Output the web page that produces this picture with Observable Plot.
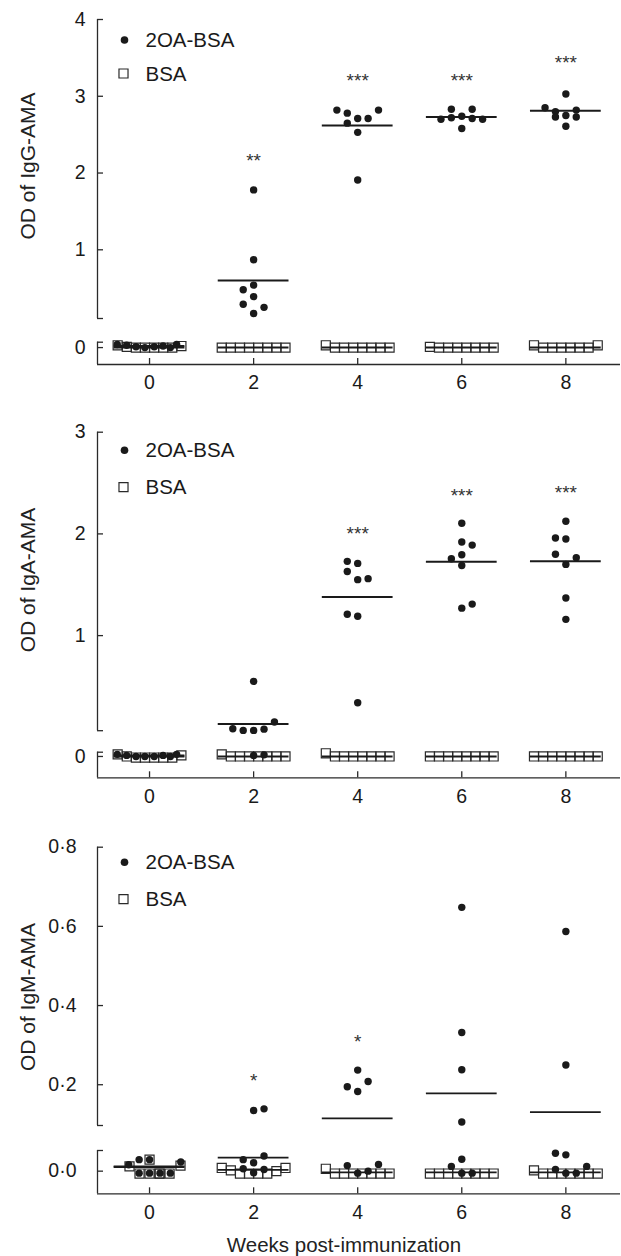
<!DOCTYPE html>
<html>
<head>
<meta charset="utf-8">
<script src="https://cdn.jsdelivr.net/npm/d3@7"></script>
<script src="https://cdn.jsdelivr.net/npm/@observablehq/plot@0.6"></script>
<style>
  body { margin: 0; background: #fff; }
  #wrap { position: relative; width: 621px; height: 1256px; font-family: "Liberation Sans", Arial, sans-serif; color: #222; overflow: hidden; }
  .panel { position: absolute; left: 0; }
  .ylab { position: absolute; font-size: 21px; white-space: nowrap; transform: translate(-50%, -50%) rotate(-90deg); }
  .xlab { position: absolute; font-size: 20.5px; white-space: nowrap; transform: translate(-50%, -50%); }
</style>
</head>
<body>
<div id="wrap"></div>
<script>
// ---------- shared categories ----------
const weeks = [0, 2, 4, 6, 8];
const groupNames = ["2OA-BSA", "BSA"];
const xTitle = "Weeks post-immunization";

// ---------- IgG panel ----------
const iggTitle = "OD of IgG-AMA";
const iggTreated = [
  [0.04, 0.03, 0.01, 0.0, 0.01, 0.02, 0.0, 0.04],
  [1.78, 0.87, 0.54, 0.48, 0.39, 0.29, 0.25, 0.17],
  [2.82, 2.78, 2.65, 2.71, 2.71, 2.82, 2.53, 1.91],
  [2.70, 2.72, 2.74, 2.71, 2.70, 2.83, 2.83, 2.58],
  [3.03, 2.85, 2.80, 2.82, 2.73, 2.75, 2.73, 2.61]
];
const iggTreatedSlot = [
  [-3.1, -2.2, -1.3, -0.45, 0.45, 1.3, 2.0, 2.6],
  [0, 0, 0, -1, 0, -1, 1, 0],
  [-2, -1, -1, 0, 1, 2, 0, 0],
  [-2, -1, 0, 1, 2, -1, 1, 0],
  [0, -2, -1, 1, -1, 0, 1, 0]
];
const iggControl = [
  [0.03, 0.01, 0, 0, 0, 0, 0, 0.02],
  [0, 0, 0, 0, 0, 0, 0, 0],
  [0.03, 0, 0, 0, 0, 0, 0, 0],
  [0.01, 0, 0, 0, 0, 0, 0, 0],
  [0.03, 0, 0, 0, 0, 0, 0, 0.03]
];
const iggControlSlot = [null, null, null, null, null];
const iggTreatedMean = [0.02, 0.60, 2.62, 2.73, 2.81];
const iggControlMean = [0, 0, 0, 0, 0];
const iggStars = ["", "**", "***", "***", "***"];
const iggStarLevel = [null, 2.22, 3.26, 3.26, 3.50];
const iggTicks = [0, 1, 2, 3, 4];
const iggTickLabels = ["0", "1", "2", "3", "4"];
const iggBreaks = [-0.22, 0.07, 0.105, 4];

// ---------- IgA panel ----------
const igaTitle = "OD of IgA-AMA";
const igaTreated = [
  [0.02, 0.01, 0.0, 0.0, 0.0, 0.01, 0.0, 0.02],
  [0.55, 0.15, 0.084, 0.068, 0.068, 0.08, 0.01, 0.015],
  [1.73, 1.71, 1.63, 1.55, 1.56, 1.21, 1.19, 0.34],
  [2.105, 1.92, 1.89, 1.755, 1.795, 1.69, 1.27, 1.31],
  [2.125, 1.96, 1.95, 1.80, 1.765, 1.70, 1.37, 1.16]
];
const igaTreatedSlot = [
  [-3.1, -2.2, -1.3, -0.45, 0.45, 1.3, 2.0, 2.6],
  [0, 2, -2, -1, 0, 1, 0, 1],
  [-1, 0, -1, 0, 1, -1, 0, 0],
  [0, 0, 1, -1, 0, 0, 0, 1],
  [0, -1, 0, -1, 1, 0, 0, 0]
];
const igaControl = [
  [0.02, 0, -0.01, -0.01, -0.01, -0.01, -0.01, 0.01],
  [0.02, 0, 0, 0, 0, 0, 0, 0],
  [0.03, 0, 0, 0, 0, 0, 0, 0],
  [0, 0, 0, 0, 0, 0, 0, 0],
  [0, 0, 0, 0, 0, 0, 0, 0]
];
const igaControlSlot = [null, null, null, null, null];
const igaTreatedMean = [0.01, 0.13, 1.38, 1.725, 1.73];
const igaControlMean = [0, 0, 0, 0, 0];
const igaStars = ["", "", "***", "***", "***"];
const igaStarLevel = [null, null, 2.05, 2.42, 2.45];
const igaTicks = [0, 1, 2, 3];
const igaTickLabels = ["0", "1", "2", "3"];
const igaBreaks = [-0.2, 0.04, 0.065, 3];

// ---------- IgM panel ----------
const igmTitle = "OD of IgM-AMA";
const igmTreated = [
  [0.016, 0.029, 0.029, 0.023, -0.005, -0.005, -0.005, -0.005],
  [0.135, 0.139, 0.029, 0.038, 0.021, 0.006, 0.004, -0.004],
  [0.237, 0.208, 0.195, 0.183, 0.014, 0.017, 0.0, -0.005],
  [0.648, 0.332, 0.238, 0.106, 0.030, 0.012, -0.005, -0.005],
  [0.587, 0.250, 0.045, 0.041, 0.004, 0.012, -0.005, -0.005]
];
const igmTreatedSlot = [
  [-2, -1, 0, 3, -1, 0, 1, 2],
  [0, 1, -1, 1, 0, -1, 1, 0],
  [0, 1, -1, 0, -1, 2, 1, 0],
  [0, 0, 0, 0, 0, -1, 0, 1],
  [0, 0, -1, 0, -1, 2, 0, 1]
];
const igmControl = [
  [0.012, -0.006, 0.029, -0.006, -0.006, -0.006, 0.014, -0.006],
  [0.008, 0.002, -0.006, -0.006, -0.006, -0.006, 0.0, 0.008],
  [0.006, -0.006, -0.006, -0.006, -0.006, -0.006, -0.006, -0.006],
  [-0.006, -0.006, -0.006, -0.006, -0.006, -0.006, -0.006, -0.006],
  [0.002, -0.006, -0.006, -0.006, -0.006, -0.006, -0.006, -0.006]
];
const igmControlSlot = [[-2.2, -1.1, 0, 0, 1.1, 2.2, 3.4, 1.1], null, null, null, null];
const igmTreatedMean = [0.012, 0.034, 0.115, 0.178, 0.131];
const igmControlMean = [0.01, 0.003, -0.003, -0.003, -0.003];
const igmStars = ["", "*", "*", "", ""];
const igmStarLevel = [null, 0.223, 0.32, null, null];
const igmTicks = [0, 0.2, 0.4, 0.6, 0.8];
const igmTickLabels = ["0·0", "0·2", "0·4", "0·6", "0·8"];
const igmBreaks = [-0.057, 0.052, 0.097, 0.8];

// ---------- layout (not data) ----------
const FONT = "'Liberation Sans', Arial, Helvetica, sans-serif";
const INK = "#1a1a1a";
const AXIS = "#2a2a2a";
const DOT_STEP = 0.2;      // weeks per dot column
const BOX_STEP = 0.175;    // weeks per box column
const STD_SLOTS = [-3.5, -2.5, -1.5, -0.5, 0.5, 1.5, 2.5, 3.5];
const HALF = 0.68;         // half width of mean bar, in weeks
const X_DOMAIN = [-1, 9.05];

function panel(cfg) {
  const [lowMin, lowMax, mainMin, mainMax] = cfg.breaks;
  // broken-axis scale transform: the two axis segments get their own stretch
  const broken = d3.scaleLinear().domain(cfg.breaks).range(cfg.range);
  const treated = cfg.treated.flatMap((vals, i) =>
    vals.map((v, j) => ({x: weeks[i] + cfg.treatedSlot[i][j] * DOT_STEP, y: v})));
  const control = cfg.control.flatMap((vals, i) =>
    vals.map((v, j) => ({x: weeks[i] + (cfg.controlSlot[i] || STD_SLOTS)[j] * BOX_STEP, y: v})));
  const means = weeks.flatMap((w, i) => [
    {w, y: cfg.controlMean[i]},
    {w, y: cfg.treatedMean[i]}
  ]);
  const stars = weeks.map((w, i) => ({w, y: cfg.starLevel[i], t: cfg.stars[i]})).filter(d => d.t);
  const ticks = cfg.ticks.map((v, i) => ({v, label: cfg.tickLabels[i]}));

  return Plot.plot({
    width: 621,
    height: cfg.height,
    marginLeft: 97,
    marginRight: 1,
    marginTop: cfg.range[3],
    marginBottom: cfg.height - cfg.range[0],
    style: {background: "transparent", fontFamily: FONT, fontSize: "19px", color: INK, overflow: "visible"},
    x: {domain: X_DOMAIN},
    y: {axis: null, transform: v => broken(v), domain: [cfg.range[0], cfg.range[3]], range: [cfg.range[0], cfg.range[3]]},
    marks: [
      // broken y axis: two segments
      Plot.ruleX([[lowMin, lowMax], [mainMin, mainMax]], {x: () => X_DOMAIN[0], y1: d => d[0], y2: d => d[1], stroke: AXIS, strokeWidth: 1.3}),
      // x axis line
      Plot.ruleY([lowMin], {y: d => d, x1: () => X_DOMAIN[0], x2: () => X_DOMAIN[1], stroke: AXIS, strokeWidth: 1.3}),
      // inward y ticks and segment caps
      Plot.ruleY(cfg.ticks.concat([lowMax, mainMin]), {y: d => d, x1: () => X_DOMAIN[0], x2: () => X_DOMAIN[0], insetLeft: 6, stroke: AXIS, strokeWidth: 1.3}),
      // inward x ticks
      Plot.ruleX(weeks, {x: d => d, y1: () => lowMin, y2: () => lowMin, insetBottom: 6, stroke: AXIS, strokeWidth: 1.3}),
      // y tick labels (through the broken y scale)
      Plot.text(ticks, {x: () => X_DOMAIN[0], y: "v", text: "label", textAnchor: "end", lineAnchor: "middle", dx: -cfg.tickPad, fontSize: 19.5, fill: INK}),
      Plot.axisX({ticks: weeks, tickSize: 0, tickPadding: 11, tickFormat: d => String(d), label: null, fontSize: 19.5, fill: INK}),
      // data
      Plot.dot(control, {x: "x", y: "y", symbol: "square", r: 5.1, fill: "none", stroke: AXIS, strokeWidth: 1.2}),
      Plot.dot(treated, {x: "x", y: "y", r: 3.7, fill: INK}),
      Plot.ruleY(means, {y: "y", x1: d => d.w - HALF, x2: d => d.w + HALF, stroke: INK, strokeWidth: cfg.meanWidth}),
      Plot.text(stars, {x: "w", y: "y", text: "t", fontSize: 19, dy: 5, fill: "#333"}),
      // legend
      Plot.dot([groupNames[0]], {frameAnchor: "top-left", dx: 27, dy: cfg.legend[0], r: 3.8, fill: INK}),
      Plot.dot([groupNames[1]], {frameAnchor: "top-left", dx: 26, dy: cfg.legend[1], symbol: "square", r: 5.1, fill: "none", stroke: AXIS, strokeWidth: 1.2}),
      Plot.text([groupNames[0]], {frameAnchor: "top-left", lineAnchor: "middle", dx: 48, dy: cfg.legend[0] + 0.5, textAnchor: "start", fontSize: 20.5, fill: INK}),
      Plot.text([groupNames[1]], {frameAnchor: "top-left", lineAnchor: "middle", dx: 48, dy: cfg.legend[1] + 0.5, textAnchor: "start", fontSize: 20.5, fill: INK})
    ]
  });
}

const panels = [
  {top: 0, height: 400, range: [364, 341.7, 318, 19], tickPad: 12, legend: [20.5, 54], meanWidth: 2,
   title: iggTitle, titleY: 166, breaks: iggBreaks, ticks: iggTicks, tickLabels: iggTickLabels,
   treated: iggTreated, treatedSlot: iggTreatedSlot, control: iggControl, controlSlot: iggControlSlot,
   treatedMean: iggTreatedMean, controlMean: iggControlMean, stars: iggStars, starLevel: iggStarLevel},
  {top: 400, height: 415, range: [377.3, 351.7, 330.2, 31.7], tickPad: 12, legend: [18, 55], meanWidth: 2,
   title: igaTitle, titleY: 580, breaks: igaBreaks, ticks: igaTicks, tickLabels: igaTickLabels,
   treated: igaTreated, treatedSlot: igaTreatedSlot, control: igaControl, controlSlot: igaControlSlot,
   treatedMean: igaTreatedMean, controlMean: igaControlMean, stars: igaStars, starLevel: igaStarLevel},
  {top: 815, height: 441, range: [378.3, 335, 310, 31.7], tickPad: 21, legend: [15, 52], meanWidth: 1.8,
   title: igmTitle, titleY: 997, breaks: igmBreaks, ticks: igmTicks, tickLabels: igmTickLabels,
   treated: igmTreated, treatedSlot: igmTreatedSlot, control: igmControl, controlSlot: igmControlSlot,
   treatedMean: igmTreatedMean, controlMean: igmControlMean, stars: igmStars, starLevel: igmStarLevel}
];

const wrap = document.getElementById("wrap");
for (const cfg of panels) {
  const holder = document.createElement("div");
  holder.className = "panel";
  holder.style.top = cfg.top + "px";
  holder.appendChild(panel(cfg));
  wrap.appendChild(holder);
}
for (const cfg of panels) {
  const t = document.createElement("div");
  t.className = "ylab";
  t.style.left = "28px";
  t.style.top = cfg.titleY + "px";
  t.textContent = cfg.title;
  wrap.appendChild(t);
}
const xt = document.createElement("div");
xt.className = "xlab";
xt.style.left = "344px";
xt.style.top = "1245px";
xt.textContent = xTitle;
wrap.appendChild(xt);
</script>
</body>
</html>
